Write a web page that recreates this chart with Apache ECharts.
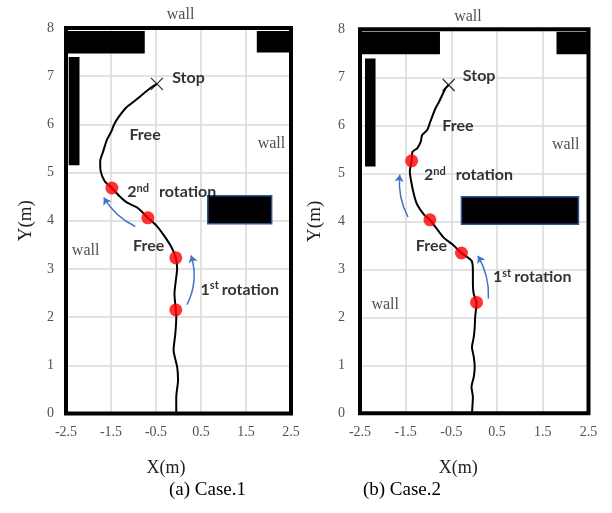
<!DOCTYPE html>
<html><head><meta charset="utf-8">
<script src="https://cdn.jsdelivr.net/npm/echarts@6/dist/echarts.min.js"></script>
<style>html,body{margin:0;padding:0;background:#fff}#c{width:612px;height:513px}</style>
</head><body><div id="c"></div>
<script>
// ---------- data ----------
const xRange = [-2.5, 2.5];
const yRange = [0, 8];
const xStep = 1;
const yStep = 1;
const captions = ['(a) Case.1', '(b) Case.2'];

// Case 1
const path1 = [[-0.05,0],[-0.05,0.34],[-0.01,0.69],[-0.03,0.97],[-0.11,1.31],[-0.07,1.66],[-0.05,2.0],[-0.06,2.15],[-0.09,2.48],[-0.05,2.83],[-0.03,3.0],[-0.06,3.23],[-0.15,3.44],[-0.29,3.65],[-0.48,3.89],[-0.68,4.06],[-0.91,4.27],[-1.13,4.37],[-1.31,4.51],[-1.48,4.68],[-1.64,4.82],[-1.73,5.03],[-1.74,5.24],[-1.67,5.45],[-1.6,5.66],[-1.49,5.86],[-1.43,6.0],[-1.34,6.14],[-1.16,6.35],[-0.97,6.49],[-0.75,6.66],[-0.6,6.77],[-0.48,6.84]];
const rot1 = [[-0.06,2.15],[-0.06,3.23],[-0.68,4.06],[-1.48,4.68]];
const stop1 = [[-0.48,6.84]];
const walls1 = [[-2.46,7.47,-0.75,7.94],[1.74,7.49,2.5,7.94],[-2.44,5.15,-2.2,7.40],[0.65,3.94,2.07,4.52]];
const outlined1 = [0,0,0,1];
const arrows1 = [[0.19,2.26,0.28,3.28],[-0.96,3.88,-1.66,4.48]];
const arrowBend1 = [-0.2, 0.15];
const noteText1 = ['wall','wall','wall','Stop','Free','2nd  rotation','Free','1st rotation'];
const notePos1 = [[-0.26,8.27],[1.76,5.59],[-2.37,3.38],[-0.14,6.96],[-1.09,5.78],[-1.14,4.59],[-1.01,3.47],[0.49,2.57]];

// Case 2
const path2 = [[-0.05,0],[-0.03,0.34],[-0.06,0.55],[-0.01,0.76],[0.01,0.97],[-0.01,1.17],[-0.05,1.38],[-0.01,1.59],[0.01,1.79],[0.02,2.0],[0.05,2.31],[-0.01,2.48],[-0.03,2.69],[-0.03,2.97],[-0.06,3.18],[-0.28,3.34],[-0.48,3.52],[-0.67,3.66],[-0.81,3.83],[-0.97,4.03],[-1.1,4.14],[-1.25,4.35],[-1.32,4.56],[-1.38,4.83],[-1.41,5.04],[-1.37,5.26],[-1.35,5.45],[-1.25,5.52],[-1.17,5.66],[-1.14,5.80],[-1.03,5.90],[-0.96,6.08],[-0.85,6.35],[-0.77,6.49],[-0.70,6.63],[-0.63,6.77],[-0.56,6.84]];
const rot2 = [[0.05,2.31],[-0.28,3.34],[-0.97,4.03],[-1.37,5.26]];
const stop2 = [[-0.56,6.84]];
const walls2 = [[-2.5,7.48,-0.75,7.95],[1.80,7.48,2.5,7.95],[-2.39,5.14,-2.16,7.39],[-0.28,3.94,2.28,4.51]];
const outlined2 = [0,0,0,1];
const arrows2 = [[0.31,2.39,0.08,3.28],[-1.45,4.09,-1.63,4.97]];
const arrowBend2 = [-0.15, 0.15];
const noteText2 = ['wall','wall','wall','Stop','Free','2nd  rotation','Free','1st rotation'];
const notePos2 = [[-0.44,8.27],[1.70,5.59],[-2.25,2.26],[-0.25,7.02],[-0.70,5.98],[-1.10,4.96],[-1.28,3.48],[0.41,2.84]];

// ---------- chart ----------
const SERIF = '"Liberation Serif","Times New Roman",serif';
const SANS = 'Lato, "Open Sans", sans-serif';

function richNote(t) {
  const m = t.match(/^(\d)(st|nd|rd|th)(\s+)(.*)$/);
  if (m) return '{b|' + m[1] + '}{s|' + m[2] + '}{' + (m[3].length > 1 ? 'gw' : 'g') + '|' + m[4] + '}';
  if (t === 'wall') return '{w|wall}';
  return '{b|' + t + '}';
}

const grids = [
  {left: 66, top: 28, width: 225, height: 385.5},
  {left: 360, top: 29.3, width: 228.5, height: 384}
];

function xAx(i, pad) {
  return {
    gridIndex: i, type: 'value', min: xRange[0], max: xRange[1], interval: xStep,
    axisLine: {show: false}, axisTick: {show: false},
    splitLine: {lineStyle: {color: '#d9d9d9', width: 1.5}},
    axisLabel: {fontFamily: SERIF, fontSize: 14, color: '#505050', margin: 12,
      formatter: v => String(v)},
    name: 'X(m)', nameLocation: 'middle', nameGap: 46,
    nameTextStyle: {fontFamily: SERIF, fontSize: 18, color: '#222', padding: [0, pad, 0, 0]}
  };
}
function yAx(i, margin, gap) {
  return {
    gridIndex: i, type: 'value', min: yRange[0], max: yRange[1], interval: yStep,
    axisLine: {show: false}, axisTick: {show: false},
    splitLine: {lineStyle: {color: '#d9d9d9', width: 1.5}},
    axisLabel: {fontFamily: SERIF, fontSize: 14, color: '#505050', margin: margin},
    name: 'Y(m)', nameLocation: 'middle', nameGap: gap,
    nameTextStyle: {fontFamily: SERIF, fontSize: 19, color: '#222'}
  };
}

function panelSeries(i, path, rot, stop, walls, outlined, arrows, bend, noteText, notePos) {
  return [
    {
      type: 'custom', xAxisIndex: i, yAxisIndex: i, z: 3,
      data: walls.map((w, k) => w.concat([outlined[k]])),
      renderItem: (params, api) => {
        const p0 = api.coord([api.value(0), api.value(3)]);
        const p1 = api.coord([api.value(2), api.value(1)]);
        return {type: 'rect',
          shape: {x: p0[0], y: p0[1], width: p1[0] - p0[0], height: p1[1] - p0[1]},
          style: {fill: '#000', stroke: api.value(4) ? '#2F5597' : null, lineWidth: 1.5}};
      }
    },
    {
      type: 'custom', xAxisIndex: i, yAxisIndex: i, z: 10, clip: false,
      data: [[xRange[0], yRange[0], xRange[1], yRange[1]]],
      renderItem: (params, api) => {
        const p0 = api.coord([api.value(0), api.value(3)]);
        const p1 = api.coord([api.value(2), api.value(1)]);
        return {type: 'rect',
          shape: {x: p0[0], y: p0[1], width: p1[0] - p0[0], height: p1[1] - p0[1]},
          style: {fill: null, stroke: '#000', lineWidth: 4}};
      }
    },
    {
      type: 'line', xAxisIndex: i, yAxisIndex: i, z: 4, data: path, showSymbol: false,
      smooth: 0.2, lineStyle: {color: '#000', width: 2}
    },
    {
      type: 'lines', coordinateSystem: 'cartesian2d', xAxisIndex: i, yAxisIndex: i, z: 4,
      symbol: ['none', 'arrow'], symbolSize: 7,
      data: arrows.map((a, k) => ({coords: [[a[0], a[1]], [a[2], a[3]]],
        lineStyle: {curveness: bend[k]}})),
      lineStyle: {color: '#4472C4', width: 1.5, opacity: 1}
    },
    {
      type: 'scatter', xAxisIndex: i, yAxisIndex: i, z: 5, data: rot,
      symbolSize: 13, itemStyle: {color: '#FF0000'}
    },
    {
      type: 'scatter', xAxisIndex: i, yAxisIndex: i, z: 5, data: stop,
      symbol: 'path://M0,0L10,10M10,0L0,10', symbolSize: 12,
      itemStyle: {color: 'rgba(0,0,0,0)', borderColor: '#000', borderWidth: 1.3}
    },
    {
      type: 'scatter', xAxisIndex: i, yAxisIndex: i, z: 6, clip: false,
      data: notePos.map((p, k) => ({value: p, name: noteText[k]})),
      symbolSize: 0, silent: true,
      label: {
        show: true, position: 'right', distance: 0,
        formatter: p => richNote(p.name),
        rich: {
          b: {fontFamily: SANS, fontWeight: 'bold', fontSize: 16, color: '#000', lineHeight: 19},
          g: {fontFamily: SANS, fontWeight: 'bold', fontSize: 16, color: '#000', lineHeight: 19, padding: [0, 0, 0, 3]},
          gw: {fontFamily: SANS, fontWeight: 'bold', fontSize: 16, color: '#000', lineHeight: 19, padding: [0, 0, 0, 10]},
          s: {fontFamily: SANS, fontWeight: 'bold', fontSize: 11, color: '#000', verticalAlign: 'top', lineHeight: 19},
          w: {fontFamily: SERIF, fontSize: 16, color: '#222', lineHeight: 19}
        }
      }
    }
  ];
}

const chart = echarts.init(document.getElementById('c'), null, {renderer: 'canvas'});
chart.setOption({
  animation: false,
  backgroundColor: '#fff',
  title: [
    {text: captions[0], left: 207.5, top: 481, textAlign: 'center', padding: 0,
      textStyle: {fontFamily: SERIF, fontSize: 19, fontWeight: 'normal', color: '#000'}},
    {text: captions[1], left: 402, top: 481, textAlign: 'center', padding: 0,
      textStyle: {fontFamily: SERIF, fontSize: 19, fontWeight: 'normal', color: '#000'}}
  ],
  grid: grids,
  xAxis: [xAx(0, 25), xAx(1, 32)],
  yAxis: [yAx(0, 12, 30), yAx(1, 15, 35)],
  series: [].concat(
    panelSeries(0, path1, rot1, stop1, walls1, outlined1, arrows1, arrowBend1, noteText1, notePos1),
    panelSeries(1, path2, rot2, stop2, walls2, outlined2, arrows2, arrowBend2, noteText2, notePos2)
  )
});
</script></body></html>
